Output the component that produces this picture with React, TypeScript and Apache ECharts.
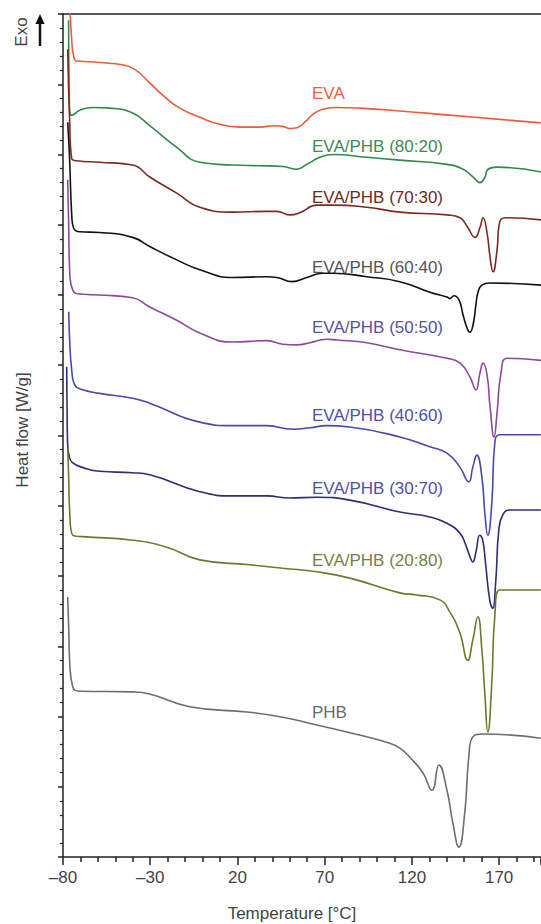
import React, { useEffect, useRef } from "react";
import * as echarts from "echarts";

// Temperature [°C], heat flow (arbitrary offset units, exo up)
const evaCurve = [[-76.2,12.2],[-75.0,11.63],[-73.9,11.40],[-72.1,11.33],[-64.7,11.32],[-53.2,11.30],[-44.6,11.27],[-40.1,11.23],[-36.1,11.16],[-30.3,11.02],[-21.7,10.82],[-13.1,10.66],[-1.6,10.53],[9.8,10.43],[21.3,10.39],[32.8,10.39],[41.4,10.41],[46.0,10.40],[50.0,10.37],[54.0,10.38],[58.6,10.46],[63.2,10.57],[68.3,10.64],[75.8,10.67],[90.1,10.66],[113.1,10.62],[141.7,10.56],[170.4,10.50],[193.9,10.45]];
const blend8020 = [[-76.8,11.91],[-76.7,11.35],[-76.4,10.80],[-76.2,10.61],[-75.0,10.56],[-70.4,10.63],[-63.0,10.67],[-53.2,10.66],[-40.1,10.59],[-30.3,10.41],[-14.8,10.10],[-1.6,9.89],[17.3,9.85],[32.8,9.84],[46.0,9.83],[54.0,9.79],[59.8,9.86],[67.2,9.96],[74.7,10.00],[94.2,9.96],[113.1,9.92],[140.1,9.86],[149.3,9.79],[155.0,9.68],[159.0,9.60],[161.9,9.68],[163.6,9.79],[168.8,9.82],[194.0,9.75]];
const blend7030 = [[-77.3,11.50],[-76.2,10.49],[-75.0,9.94],[-72.1,9.91],[-59.0,9.89],[-40.1,9.85],[-30.3,9.68],[-14.8,9.45],[-1.6,9.25],[17.3,9.18],[36.8,9.19],[42.5,9.19],[50.0,9.14],[55.7,9.17],[65.5,9.28],[74.7,9.28],[94.2,9.25],[113.1,9.18],[140.1,9.14],[147.6,9.10],[151.6,8.98],[156.2,8.82],[159.0,8.96],[160.8,9.10],[163.1,8.88],[164.8,8.54],[166.5,8.33],[168.8,8.64],[169.9,8.98],[173.3,9.10],[194.0,9.07]];
const blend6040 = [[-77.3,10.46],[-76.2,9.93],[-75.0,9.14],[-73.9,8.95],[-70.4,8.90],[-59.0,8.89],[-40.1,8.82],[-30.3,8.69],[-14.8,8.50],[-1.6,8.36],[17.3,8.25],[36.8,8.26],[42.5,8.25],[51.4,8.19],[59.7,8.25],[68.9,8.31],[74.7,8.31],[94.2,8.26],[113.1,8.19],[130.3,8.04],[140.1,7.97],[141.8,7.95],[144.1,7.99],[147.0,7.93],[149.3,7.72],[151.6,7.53],[153.2,7.47],[155.0,7.57],[156.7,7.86],[157.9,8.04],[160.1,8.14],[164.7,8.17],[194.0,8.14]];
const blend5050 = [[-77.3,9.64],[-76.7,8.93],[-76.2,8.36],[-74.4,8.07],[-68.6,8.01],[-59.0,8.00],[-40.1,7.96],[-30.3,7.83],[-14.8,7.64],[-1.6,7.46],[17.3,7.33],[36.8,7.35],[46.0,7.30],[54.0,7.29],[61.5,7.32],[71.2,7.37],[76.9,7.36],[94.2,7.32],[113.1,7.22],[140.1,7.10],[147.6,7.03],[153.3,6.83],[156.7,6.65],[159.0,6.89],[160.8,7.03],[163.1,6.86],[164.8,6.41],[167.1,5.98],[168.8,6.32],[171.1,6.89],[174.6,7.10],[194.0,7.07]];
const blend4060 = [[-76.7,7.76],[-76.2,7.36],[-75.0,6.93],[-73.3,6.72],[-68.6,6.65],[-59.0,6.60],[-40.1,6.53],[-30.3,6.46],[-1.6,6.19],[17.3,6.14],[36.8,6.14],[51.7,6.09],[61.5,6.11],[71.2,6.14],[84.4,6.12],[113.1,5.98],[130.3,5.84],[140.1,5.75],[147.5,5.55],[152.6,5.34],[154.9,5.55],[157.2,5.72],[160.1,5.41],[161.8,4.90],[163.5,4.58],[165.8,5.04],[167.5,5.89],[170.4,6.01],[193.9,6.01]];
const blend3070 = [[-77.9,6.98],[-77.6,6.22],[-77.3,5.86],[-76.2,5.68],[-74.4,5.61],[-69.3,5.55],[-59.0,5.49],[-40.1,5.47],[-30.3,5.44],[-1.6,5.20],[17.3,5.14],[36.8,5.14],[50.0,5.11],[65.5,5.12],[84.4,5.08],[113.1,4.91],[130.3,4.84],[140.1,4.75],[147.5,4.61],[150.9,4.44],[153.2,4.28],[154.9,4.20],[156.7,4.34],[158.9,4.58],[160.6,4.51],[162.3,4.16],[164.6,3.66],[166.3,3.54],[168.1,3.94],[169.8,4.65],[172.1,4.87],[176.1,4.94],[193.9,4.94]];
const blend2080 = [[-77.3,5.82],[-76.7,5.37],[-76.2,4.94],[-74.4,4.58],[-68.6,4.56],[-40.1,4.51],[-20.5,4.41],[-1.6,4.23],[27.0,4.16],[46.0,4.11],[65.5,4.06],[84.4,3.97],[113.1,3.76],[122.8,3.73],[136.0,3.66],[141.7,3.49],[147.5,3.19],[152.0,2.80],[154.9,3.09],[157.8,3.42],[160.1,2.95],[161.8,2.33],[163.5,1.78],[165.8,2.48],[167.5,3.42],[170.4,3.80],[193.9,3.80]];
const phbCurve = [[-77.3,3.70],[-76.7,3.23],[-76.2,2.80],[-74.4,2.42],[-70.4,2.36],[-40.1,2.35],[-30.3,2.32],[-7.4,2.14],[27.0,2.06],[46.0,1.99],[65.5,1.88],[84.4,1.77],[107.3,1.62],[113.1,1.55],[118.8,1.42],[126.3,1.20],[131.5,0.95],[135.5,1.31],[140.1,0.95],[143.5,0.48],[146.9,0.14],[150.3,0.63],[152.6,1.42],[154.9,1.71],[160.6,1.75],[193.9,1.69]];

const seriesNames = ["EVA", "EVA/PHB (80:20)", "EVA/PHB (70:30)", "EVA/PHB (60:40)", "EVA/PHB (50:50)", "EVA/PHB (40:60)", "EVA/PHB (30:70)", "EVA/PHB (20:80)", "PHB"];
const seriesData = [evaCurve, blend8020, blend7030, blend6040, blend5050, blend4060, blend3070, blend2080, phbCurve];
const lineColors = ["#ee5a3a", "#2f8a4c", "#7b2a20", "#111111", "#8c4a9c", "#4848b0", "#2e2e78", "#6a7a2c", "#6e6e6e"];
const labelColors = ["#f0603c", "#3d8a55", "#6e2a22", "#555555", "#5a4fa0", "#5050a8", "#5050a8", "#777f4a", "#6a6a6a"];
const labelY = [93, 146, 197, 267, 327, 415, 488, 560, 712];

const xTicks = { min: -80, max: 194, interval: 50 };
const FONT = '"Liberation Sans", Arial, sans-serif';

export default function App() {
  const ref = useRef<HTMLDivElement>(null);
  useEffect(() => {
    if (!ref.current) return;
    const chart = echarts.init(ref.current, undefined, { renderer: "svg" });
    const graphics: any[] = seriesNames.map((name, i) => ({
      type: "text",
      x: 312,
      y: labelY[i],
      style: { text: name, fill: labelColors[i], fontSize: 17, fontFamily: FONT, verticalAlign: "middle", align: "left" },
    }));
    graphics.push(
      { type: "text", x: 292, y: 913, style: { text: "Temperature [°C]", fill: "#444", fontSize: 17, fontFamily: FONT, align: "center", verticalAlign: "middle" } },
      { type: "text", x: 22, y: 430, rotation: Math.PI / 2, style: { text: "Heat flow [W/g]", fill: "#444", fontSize: 17, fontFamily: FONT, align: "center", verticalAlign: "middle" } },
      { type: "text", x: 21, y: 32, rotation: Math.PI / 2, style: { text: "Exo", fill: "#444", fontSize: 17, fontFamily: FONT, align: "center", verticalAlign: "middle" } },
      { type: "line", shape: { x1: 40, y1: 46, x2: 40, y2: 22 }, style: { stroke: "#111", lineWidth: 2.5 } },
      { type: "polygon", shape: { points: [[35.5, 24], [44.5, 24], [40, 14]] }, style: { fill: "#111" } }
    );
    chart.setOption({
      animation: false,
      grid: { left: 63, right: 0, top: 14, bottom: 67 },
      xAxis: [
        {
          type: "value",
          min: xTicks.min,
          max: xTicks.max,
          interval: xTicks.interval,
          position: "bottom",
          axisLine: { show: true, lineStyle: { color: "#222", width: 1.5 } },
          axisTick: { show: true, length: 8, lineStyle: { color: "#222", width: 1.5 } },
          minorTick: { show: true, splitNumber: 5, length: 5, lineStyle: { color: "#222", width: 1.5 } },
          splitLine: { show: false },
          axisLabel: {
            color: "#444",
            fontSize: 17,
            fontFamily: FONT,
            margin: 12,
            showMaxLabel: false,
            formatter: (v: number) => (v < 0 ? "\u2013" + Math.abs(v) : String(v)),
          },
        },
        {
          type: "value",
          min: xTicks.min,
          max: xTicks.max,
          position: "top",
          axisLine: { show: true, onZero: false, lineStyle: { color: "#222", width: 1.5 } },
          axisTick: { show: false },
          axisLabel: { show: false },
          splitLine: { show: false },
        },
      ],
      yAxis: {
        type: "value",
        min: 0,
        max: 12,
        interval: 1,
        axisLine: { show: true, onZero: false, lineStyle: { color: "#222", width: 1.5 } },
        axisTick: { show: true, length: 5, lineStyle: { color: "#222", width: 1.5 } },
        minorTick: { show: true, splitNumber: 5, length: 3, lineStyle: { color: "#222", width: 1.2 } },
        axisLabel: { show: false },
        splitLine: { show: false },
      },
      series: seriesData.map((d, i) => ({
        type: "line",
        name: seriesNames[i],
        data: d,
        xAxisIndex: 0,
        showSymbol: false,
        smooth: 0.5,
        lineStyle: { color: lineColors[i], width: 1.6 },
        itemStyle: { color: lineColors[i] },
        clip: true,
      })),
      graphic: graphics,
    });
    return () => chart.dispose();
  }, []);
  return <div ref={ref} style={{ position: "absolute", left: 0, top: 0, width: 541, height: 924 }} />;
}
